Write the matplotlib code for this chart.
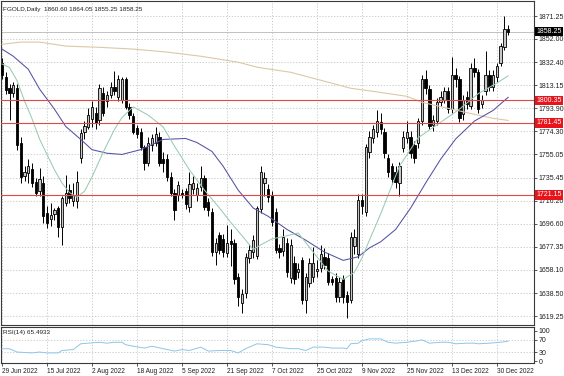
import matplotlib
matplotlib.use("Agg")
import matplotlib.pyplot as plt
from matplotlib.transforms import blended_transform_factory

plt.rcParams["font.family"] = ["Liberation Sans", "DejaVu Sans"]

# daily OHLC, 29 Jun 2022 .. 4 Jan 2023 (bar index = position on chart)
opens = [1832, 1820, 1811, 1807, 1811, 1765, 1737, 1739, 1743, 1732,
         1724, 1731, 1706, 1701, 1705, 1710, 1694, 1714, 1725, 1716,
         1716, 1752, 1774, 1778, 1785, 1790, 1784, 1807, 1800, 1805,
         1812, 1803, 1801, 1818, 1795, 1787, 1777, 1774, 1761, 1748,
         1763, 1765, 1770, 1751, 1751, 1736, 1723, 1721, 1723, 1724,
         1711, 1726, 1721, 1728, 1735, 1715, 1707, 1673, 1687, 1684,
         1672, 1682, 1681, 1652, 1630, 1639, 1668, 1673, 1670, 1709,
         1731, 1726, 1721, 1707, 1676, 1674, 1681, 1651, 1664, 1656,
         1666, 1633, 1647, 1652, 1657, 1660, 1669, 1668, 1650, 1651,
         1635, 1650, 1637, 1633, 1678, 1671, 1717, 1707, 1757, 1769,
         1774, 1782, 1774, 1752, 1745, 1740, 1731, 1760, 1769, 1770,
         1763, 1765, 1783, 1818, 1810, 1780, 1783, 1799, 1801, 1808,
         1793, 1822, 1818, 1789, 1803, 1796, 1828, 1824, 1797, 1808,
         1822, 1812, 1820, 1832, 1845, 1860.60]
highs = [1836, 1824, 1814, 1816, 1814, 1770, 1745, 1751, 1748, 1735,
         1744, 1737, 1712, 1714, 1710, 1712, 1720, 1738, 1730, 1731,
         1741, 1776, 1783, 1794, 1800, 1795, 1814, 1812, 1808, 1816,
         1825, 1822, 1820, 1820, 1798, 1790, 1780, 1777, 1763, 1770,
         1772, 1778, 1774, 1757, 1755, 1740, 1726, 1733, 1726, 1727,
         1740, 1737, 1731, 1745, 1738, 1718, 1710, 1685, 1690, 1688,
         1696, 1692, 1684, 1655, 1642, 1672, 1680, 1687, 1712, 1745,
         1740, 1730, 1724, 1710, 1680, 1692, 1685, 1684, 1670, 1664,
         1669, 1655, 1668, 1677, 1666, 1679, 1676, 1672, 1653, 1655,
         1652, 1654, 1640, 1690, 1692, 1722, 1722, 1764, 1775, 1780,
         1792, 1790, 1777, 1755, 1748, 1745, 1749, 1775, 1783, 1775,
         1766, 1786, 1822, 1826, 1813, 1788, 1802, 1808, 1812, 1812,
         1837, 1828, 1821, 1805, 1808, 1832, 1836, 1827, 1805, 1842,
         1826, 1826, 1832, 1849, 1871, 1864.05]
lows = [1818, 1806, 1784, 1803, 1759, 1731, 1733, 1731, 1728, 1720,
        1720, 1697, 1693, 1695, 1700, 1686, 1679, 1712, 1714, 1712,
        1710, 1748, 1768, 1776, 1778, 1776, 1780, 1787, 1795, 1802,
        1805, 1800, 1798, 1793, 1785, 1772, 1769, 1759, 1742, 1745,
        1758, 1762, 1745, 1740, 1733, 1720, 1700, 1716, 1718, 1709,
        1707, 1722, 1716, 1724, 1708, 1703, 1670, 1662, 1671, 1669,
        1669, 1661, 1646, 1628, 1622, 1634, 1664, 1668, 1667, 1706,
        1720, 1715, 1695, 1672, 1668, 1670, 1652, 1647, 1646, 1651,
        1629, 1622, 1644, 1648, 1652, 1656, 1659, 1645, 1645, 1631,
        1631, 1630, 1618, 1630, 1671, 1668, 1705, 1703, 1752, 1765,
        1770, 1772, 1752, 1736, 1730, 1727, 1720, 1757, 1765, 1752,
        1748, 1760, 1780, 1806, 1776, 1775, 1780, 1796, 1798, 1790,
        1790, 1812, 1782, 1784, 1793, 1793, 1820, 1790, 1794, 1805,
        1808, 1808, 1816, 1829, 1843, 1855.25]
closes = [1822, 1809, 1807, 1813, 1763, 1736, 1740, 1745, 1731, 1723,
          1734, 1703, 1697, 1704, 1708, 1694, 1718, 1723, 1718, 1721,
          1732, 1773, 1779, 1788, 1795, 1781, 1811, 1790, 1805, 1812,
          1808, 1818, 1818, 1795, 1788, 1774, 1772, 1761, 1748, 1765,
          1769, 1772, 1748, 1748, 1736, 1723, 1708, 1729, 1721, 1713,
          1730, 1731, 1727, 1735, 1711, 1708, 1673, 1681, 1675, 1673,
          1681, 1680, 1650, 1635, 1638, 1669, 1675, 1683, 1710, 1740,
          1735, 1719, 1698, 1675, 1673, 1686, 1656, 1679, 1650, 1659,
          1633, 1652, 1664, 1664, 1659, 1671, 1662, 1648, 1648, 1635,
          1648, 1635, 1631, 1686, 1686, 1717, 1712, 1761, 1770, 1776,
          1783, 1776, 1756, 1740, 1734, 1732, 1745, 1770, 1774, 1756,
          1752, 1783, 1818, 1811, 1779, 1784, 1799, 1803, 1808, 1793,
          1822, 1818, 1786, 1801, 1797, 1828, 1824, 1793, 1801, 1822,
          1812, 1822, 1829, 1846, 1860, 1858.25]

# moving averages (bar index, price)
ma_fast_idx = [0, 2, 4, 6, 8, 10, 12, 14, 16, 18, 20, 22, 24, 27, 30, 32, 35, 39,
               43, 46, 50, 54, 58, 61, 65, 67, 69, 72, 75, 79, 84, 87, 91, 94,
               96, 98, 101, 106, 111, 117, 122, 127, 132, 135]
ma_fast = [1831, 1828, 1817, 1800, 1785, 1768, 1755, 1742, 1731, 1723, 1719,
           1724, 1736, 1757, 1776, 1786, 1795, 1788, 1778, 1762, 1742, 1725,
           1710, 1698, 1683, 1675, 1679, 1684, 1686, 1689, 1669, 1657, 1650,
           1656, 1668, 1683, 1705, 1745, 1769, 1782, 1793, 1806, 1815, 1821]
ma_mid_idx = [0, 3, 7, 10, 14, 17, 21, 24, 28, 32, 37, 43, 49, 52, 56, 59, 63, 67,
              71, 76, 81, 86, 91, 95, 98, 101, 105, 109, 113, 117, 121, 126, 131, 135]
ma_mid = [1843.5, 1837.5, 1826.6, 1810, 1793, 1778.5, 1767.6, 1759, 1756, 1755,
          1759, 1767.6, 1768.4, 1765, 1757.5, 1745, 1725, 1710, 1703, 1692, 1683,
          1673, 1666, 1669, 1676.5, 1681.6, 1692, 1710, 1731, 1751, 1768, 1783,
          1792, 1803]
ma_slow_idx = [0, 5, 10, 17, 26, 35, 44, 53, 58, 63, 68, 77, 86, 93, 99, 108,
               112, 120, 126, 131, 135]
ma_slow = [1847.5, 1849.4, 1849.4, 1846, 1845, 1843.5, 1841, 1837.5, 1835,
           1832.5, 1828.3, 1824, 1816.5, 1810.6, 1808, 1803.8, 1798.8, 1793,
           1788.7, 1785.3, 1783.6]

rsi_idx = [0, 2, 4, 8, 10, 12, 15, 16, 19, 21, 23, 26, 28, 30, 32, 33, 35, 38, 40,
           43, 46, 48, 50, 53, 55, 58, 61, 63, 65, 68, 71, 73, 77, 79, 81, 83, 86,
           88, 91, 92, 93, 95, 96, 98, 101, 103, 105, 108, 111, 112, 114, 117,
           119, 121, 124, 126, 127, 130, 133, 135]
rsi = [40.7, 40.7, 30, 27, 30, 27, 27, 35, 38, 57, 59, 62, 59, 62, 62, 54, 49, 43,
       49, 41, 33, 38, 35, 46, 33, 35, 35, 27, 41, 57, 54, 46, 41, 41, 35, 46, 46,
       43, 43, 41, 57, 59, 67, 73, 73, 62, 59, 62, 67, 70, 59, 62, 62, 57, 59, 59,
       57, 59, 62, 65.5]

levels = [1800.35, 1781.45, 1721.15]
last_price = 1858.25
price_ticks = [1871.25, 1852.00, 1832.40, 1813.15, 1793.90, 1774.30, 1755.05,
               1735.45, 1716.20, 1696.60, 1677.35, 1658.10, 1638.50, 1619.25]
date_idx = [0, 12, 24, 36, 48, 60, 72, 84, 96, 108, 120, 132]
date_labels = ["29 Jun 2022", "15 Jul 2022", "2 Aug 2022", "18 Aug 2022",
               "5 Sep 2022", "21 Sep 2022", "7 Oct 2022", "25 Oct 2022",
               "9 Nov 2022", "25 Nov 2022", "13 Dec 2022", "30 Dec 2022"]

W, H = 564, 376
fig = plt.figure(figsize=(W / 100, H / 100), dpi=100)
ax = fig.add_axes([1 / W, 1 - 325 / H, 533 / W, 324 / H])
axr = fig.add_axes([1 / W, 1 - 363 / H, 533 / W, 36 / H])

frame = "#3a3a3a"
grid_kw = dict(color="#c4c4c4", linestyle=(0, (1.5, 2)), linewidth=0.6)
for a in (ax, axr):
    for s in a.spines.values():
        s.set_color(frame)
        s.set_linewidth(0.8)
    a.set_xlim(-0.27, 141.9)
    a.set_xticks(date_idx)
    a.xaxis.grid(True, **grid_kw)
    a.yaxis.tick_right()
    a.tick_params(axis="y", length=2, width=0.6, color=frame, pad=1.5,
                  labelsize=5, labelcolor="#202020")
    a.set_axisbelow(True)

# main panel
ax.set_ylim(1611.7, 1883.9)
ax.set_yticks(price_ticks)
ax.set_yticklabels([f"{p:.2f}" for p in price_ticks])
ax.yaxis.grid(True, **grid_kw)
ax.tick_params(axis="x", length=0, labelbottom=False)

n = len(closes)
xs = list(range(n))
ax.vlines(xs, lows, highs, color="black", linewidth=0.7, zorder=3)
bottoms = [min(o, c) for o, c in zip(opens, closes)]
heights = [abs(c - o) for o, c in zip(opens, closes)]
fills = ["#c8c8c8" if c >= o else "black" for o, c in zip(opens, closes)]
ax.bar(xs, heights, bottom=bottoms, width=0.62, color=fills,
       edgecolor="black", linewidth=0.6, zorder=4)

ax.plot(ma_slow_idx, ma_slow, color="#dcc8a8", linewidth=0.8, zorder=5)
ax.plot(ma_mid_idx, ma_mid, color="#5252a2", linewidth=0.75, zorder=5)
ax.plot(ma_fast_idx, ma_fast, color="#9acbb0", linewidth=0.75, zorder=5)

ax.axhline(last_price, color="#b8b8b8", linewidth=0.6, zorder=2)
for lv in levels:
    ax.axhline(lv, color="#e04848", linewidth=0.8, zorder=6)

tr = blended_transform_factory(ax.transAxes, ax.transData)
for lv in levels:
    ax.text(1.004, lv, f"{lv:.2f}", transform=tr, fontsize=5, color="white",
            va="center", ha="left", zorder=10,
            bbox=dict(boxstyle="square,pad=0.2", fc="#e8141c", ec="none"))
ax.text(1.004, last_price, f"{last_price:.2f}", transform=tr, fontsize=5,
        color="white", va="center", ha="left", zorder=10,
        bbox=dict(boxstyle="square,pad=0.2", fc="black", ec="none"))

ax.text(0.004, 0.983, "FGOLD,Daily  1860.60 1864.05 1855.25 1858.25",
        transform=ax.transAxes, fontsize=4.6, color="#202020", va="top", ha="left")

# RSI panel
axr.set_ylim(-6, 112)
axr.set_yticks([0, 30, 70, 100])
axr.set_yticklabels(["0", "30", "70", "100"])
axr.yaxis.grid(False)
for lv in (30, 70):
    axr.axhline(lv, **grid_kw, zorder=1)
axr.plot(rsi_idx, rsi, color="#8ec5e8", linewidth=0.7, zorder=3)
axr.text(0.004, 0.93, "RSI(14) 65.4933", transform=axr.transAxes, fontsize=4.6,
         color="#202020", va="top", ha="left")
axr.set_xticklabels(date_labels)
axr.tick_params(axis="x", length=2, width=0.6, color=frame, pad=1.5,
                labelsize=4.7, labelcolor="#202020")
for lab in axr.get_xticklabels():
    lab.set_horizontalalignment("left")

fig.savefig("out.png", dpi=100, facecolor="white")
